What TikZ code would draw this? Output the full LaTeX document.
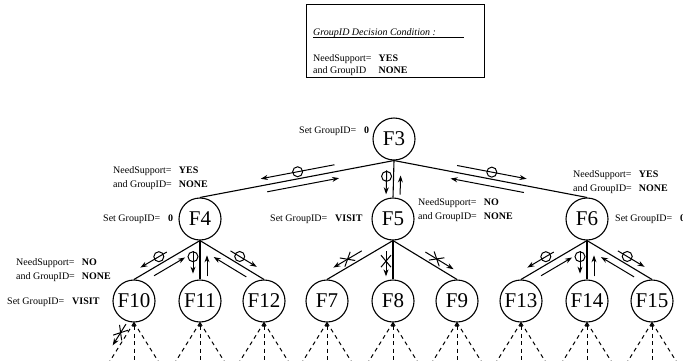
\documentclass[tikz,border=0pt]{standalone}
\usepackage{fontspec}
\setmainfont{Liberation Serif}
\usetikzlibrary{calc,arrows.meta,shapes.misc}
\tikzset{
  fnode/.style={draw,circle,line width=1.1pt,minimum size=42pt,inner sep=0pt,font=\fontsize{21}{21}\selectfont},
  edge/.style={line width=1.1pt},
  sarr/.style={line width=1pt,-{Stealth[length=7pt,width=5pt]}},
  omark/.style={draw,circle,line width=1pt,minimum size=10pt,inner sep=0pt},
  xmark/.style={draw,cross out,sloped,line width=1pt,minimum width=11pt,minimum height=9pt,inner sep=0pt},
  lbl/.style={font=\fontsize{10}{13.5}\selectfont,inner sep=0pt,anchor=west},
  dline/.style={line width=1pt,dash pattern=on 4pt off 3.5pt},
}
% side arrow parallel to edge #1->#2, from fraction #3 to #4, on side #5 (angle), distance #6, mark #7
\newcommand{\sarrow}[7]{%
  \draw[sarr] ($($(#1)!#3!(#2)$)!#6!#5:(#2)$) -- #7 ($($(#1)!#4!(#2)$)!#6!#5:(#2)$);}
\newcommand{\cond}[2]{\begin{tabular}{@{}l@{\hspace{7pt}}l@{}}NeedSupport= & \textbf{#1}\\ and GroupID= & \textbf{#2}\end{tabular}}
\begin{document}
\begin{tikzpicture}[x=1pt,y=-1pt]
\useasboundingbox (0,0) rectangle (683,360);
% condition box
\node[draw,line width=0.7pt,minimum width=178pt,minimum height=73pt,inner sep=0pt] (box) at (395,41) {};
\node[lbl,font=\fontsize{10}{12}\selectfont\itshape] (title) at (313,33) {GroupID Decision Condition :};
\coordinate (ulend) at ($(title.south east)+(28,0)$);
\draw[line width=0.7pt] (title.south west) -- (ulend);
\node[lbl,font=\fontsize{10}{12}\selectfont] (boxcond) at (313,65) {\begin{tabular}{@{}l@{\hspace{7pt}}l@{}}NeedSupport= & \textbf{YES}\\ and GroupID & \textbf{NONE}\end{tabular}};

% nodes
\node[fnode] (F3) at (394,139) {F3};
\node[fnode] (F4) at (200,219) {F4};
\node[fnode] (F5) at (393,219) {F5};
\node[fnode] (F6) at (587,219) {F6};
\node[fnode] (F10) at (134,301) {F10};
\node[fnode] (F11) at (200,301) {F11};
\node[fnode] (F12) at (264,301) {F12};
\node[fnode] (F7) at (327,301) {F7};
\node[fnode] (F8) at (393,301) {F8};
\node[fnode] (F9) at (457,301) {F9};
\node[fnode] (F13) at (521,301) {F13};
\node[fnode] (F14) at (587,301) {F14};
\node[fnode] (F15) at (652,301) {F15};

% edges
\foreach \p/\c in {F3/F4,F3/F5,F3/F6,F4/F10,F4/F11,F4/F12,F5/F7,F5/F8,F5/F9,F6/F13,F6/F14,F6/F15}
  \draw[edge] (\p.south) -- (\c.north);

% side arrows
\sarrow{F3.south}{F4.north}{.30}{.68}{-90}{7pt}{node[omark,pos=.5]{}}
\sarrow{F3.south}{F4.north}{.66}{.29}{90}{7pt}{}
\sarrow{F3.south}{F6.north}{.32}{.68}{90}{7pt}{node[omark,pos=.5]{}}
\sarrow{F3.south}{F6.north}{.68}{.30}{-90}{7pt}{}
\sarrow{F3.south}{F5.north}{.27}{.92}{-90}{7pt}{node[omark,pos=.25]{}}
\sarrow{F3.south}{F5.north}{.92}{.40}{90}{7pt}{}
\foreach \p/\a/\b/\c in {F4/F10/F11/F12,F6/F13/F14/F15}{
  \sarrow{\p.south}{\a.north}{.45}{.85}{-90}{7pt}{node[omark,pos=.3]{}}
  \sarrow{\p.south}{\a.north}{.75}{.28}{90}{7pt}{}
  \sarrow{\p.south}{\b.north}{.27}{.85}{-90}{7pt}{node[omark,pos=.25]{}}
  \sarrow{\p.south}{\b.north}{.92}{.38}{90}{7pt}{}
  \sarrow{\p.south}{\c.north}{.42}{.83}{90}{7pt}{node[omark,pos=.35]{}}
  \sarrow{\p.south}{\c.north}{.78}{.27}{-90}{7pt}{}
}
\sarrow{F5.south}{F7.north}{.42}{.85}{-90}{7pt}{node[xmark,pos=.5]{}}
\sarrow{F5.south}{F8.north}{.27}{.92}{-90}{7pt}{node[xmark,pos=.4]{}}
\sarrow{F5.south}{F9.north}{.45}{.89}{90}{7pt}{node[xmark,pos=.4]{}}

% dashed lines below
\foreach \n in {F10,F11,F12,F7,F8,F9,F13,F14,F15}{
  \coordinate (\n-l) at ($(\n.south)+(-25,40)$);
  \coordinate (\n-c) at ($(\n.south)+(0,40)$);
  \coordinate (\n-r) at ($(\n.south)+(25,40)$);
  \draw[dline] (\n.south) -- (\n-l);
  \draw[dline] (\n.south) -- (\n-r);
  \draw[dline,{Latex[length=4pt,width=4pt]}-] (\n.south) -- (\n-c);
}
\sarrow{F10.south}{F10-l}{.12}{.65}{-90}{6pt}{node[xmark,pos=.4]{}}

% labels
\node[lbl] (L3) at (299,131) {Set GroupID=\hspace{8pt}\textbf{0}};
\node[lbl] (L4a) at (113,178) {\cond{YES}{NONE}};
\node[lbl] (L4) at (103,219) {Set GroupID=\hspace{8pt}\textbf{0}};
\node[lbl] (L5) at (270,219) {Set GroupID=\hspace{8pt}\textbf{VISIT}};
\node[lbl] (L5a) at (418,210) {\cond{NO}{NONE}};
\node[lbl] (L6a) at (573,182) {\cond{YES}{NONE}};
\node[lbl] (L6) at (615,219) {Set GroupID=\hspace{8pt}\textbf{0}};
\node[lbl] (L10a) at (16,270) {\cond{NO}{NONE}};
\node[lbl] (L10) at (7,302) {Set GroupID=\hspace{8pt}\textbf{VISIT}};
\end{tikzpicture}
\end{document}
